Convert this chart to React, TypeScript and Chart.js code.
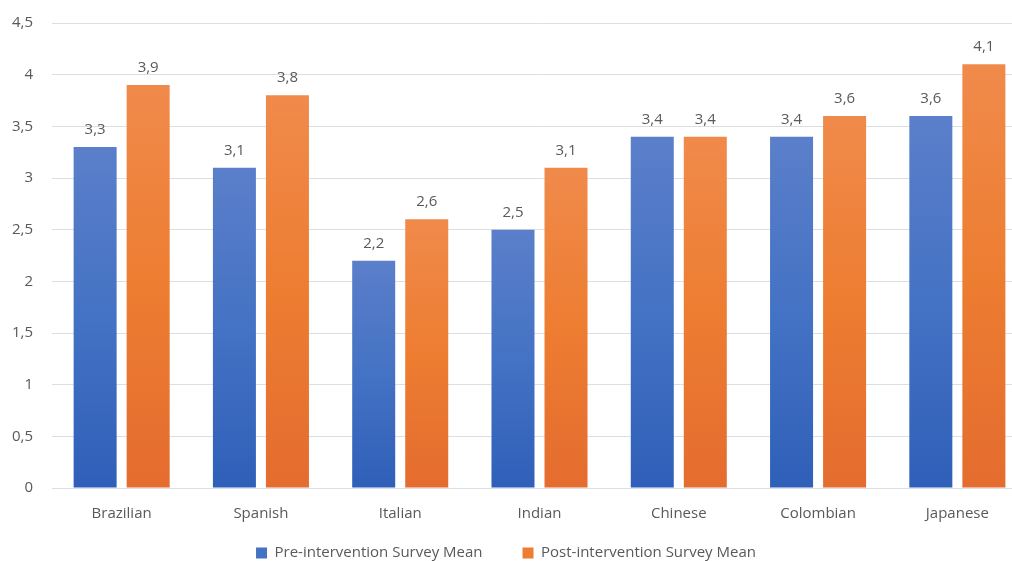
import React, { useEffect, useRef } from "react";
import { Chart, registerables } from "chart.js";

Chart.register(...registerables);

const categories = ["Brazilian", "Spanish", "Italian", "Indian", "Chinese", "Colombian", "Japanese"];
const preValues = [3.3, 3.1, 2.2, 2.5, 3.4, 3.4, 3.6];
const postValues = [3.9, 3.8, 2.6, 3.1, 3.4, 3.6, 4.1];
const seriesNames = ["Pre-intervention Survey Mean", "Post-intervention Survey Mean"];

const FONT = "'Open Sans', 'Noto Sans', sans-serif";
const TEXT = "#595959";
const GRID = "#dadfe6";
const SHIFT = 5;

const blueStops = ["#5b7fca", "#4472c4", "#2f5fb8"];
const orangeStops = ["#f08a4b", "#ed7d31", "#e46c2f"];

function gradientFor(stops: string[]) {
  return (ctx: any) => {
    const chart = ctx.chart;
    const area = chart.chartArea;
    const y = chart.scales && chart.scales.y;
    if (!area || !y || ctx.type !== "data") return stops[1];
    const v = ctx.raw as number;
    const y0 = y.getPixelForValue(0);
    const y1 = y.getPixelForValue(v);
    if (!isFinite(y0) || !isFinite(y1) || y0 === y1) return stops[1];
    const g = chart.ctx.createLinearGradient(0, y1, 0, y0);
    g.addColorStop(0, stops[0]);
    g.addColorStop(0.5, stops[1]);
    g.addColorStop(1, stops[2]);
    return g;
  };
}

const fmt = (v: number) => v.toFixed(1).replace(".", ",");

const valueLabels = {
  id: "valueLabels",
  afterDatasetsDraw(chart: any) {
    const ctx = chart.ctx;
    ctx.save();
    ctx.font = `15px ${FONT}`;
    ctx.fillStyle = TEXT;
    ctx.textAlign = "center";
    ctx.textBaseline = "alphabetic";
    chart.data.datasets.forEach((ds: any, i: number) => {
      const meta = chart.getDatasetMeta(i);
      meta.data.forEach((el: any, j: number) => {
        ctx.fillText(fmt(ds.data[j]), el.x, el.y - 13);
      });
    });
    ctx.restore();
  },
};

const legendShift = {
  id: "legendShift",
  afterLayout(chart: any) {
    const lg = chart.legend;
    if (!lg) return;
    const h = lg.height;
    lg.left = 0;
    lg.right = 1012;
    lg.width = 1012;
    lg.top = 553 + SHIFT - 40 - 7.5;
    lg.bottom = lg.top + h;
  },
};

export default function App() {
  const ref = useRef<HTMLCanvasElement | null>(null);
  useEffect(() => {
    document.body.style.margin = "0";
    const canvas = ref.current!;
    const chart = new Chart(canvas, {
      type: "bar",
      data: {
        labels: categories,
        datasets: [
          {
            label: seriesNames[0],
            data: preValues,
            backgroundColor: gradientFor(blueStops),
            categoryPercentage: 0.7615,
            barPercentage: 0.811,
          },
          {
            label: seriesNames[1],
            data: postValues,
            backgroundColor: gradientFor(orangeStops),
            categoryPercentage: 0.7615,
            barPercentage: 0.811,
          },
        ],
      },
      options: {
        responsive: false,
        animation: false,
        layout: { padding: { left: 12, top: 17, right: 0, bottom: 0 } },
        scales: {
          x: {
            grid: { display: false, drawTicks: false },
            border: { display: true, color: GRID, width: 1 },
            ticks: { color: TEXT, font: { family: FONT, size: 15 }, padding: 17 },
          },
          y: {
            min: 0,
            max: 4.5,
            afterFit: (s: any) => {
              s.width = 40;
            },
            ticks: {
              stepSize: 0.5,
              color: TEXT,
              font: { family: FONT, size: 15 },
              padding: 19,
              callback: (v: any) => String(v).replace(".", ","),
            },
            grid: { color: GRID, drawTicks: false },
            border: { display: false },
          },
        },
        plugins: {
          title: { display: false },
          tooltip: { enabled: false },
          legend: {
            position: "bottom",
            labels: {
              color: TEXT,
              font: { family: FONT, size: 15 },
              boxWidth: 11,
              boxHeight: 11,
              padding: 40,
              generateLabels: (c: any) => {
                const items = Chart.defaults.plugins.legend.labels.generateLabels(c);
                return items.map((it: any, i: number) => ({
                  ...it,
                  fillStyle: i === 0 ? blueStops[1] : orangeStops[1],
                  strokeStyle: "rgba(0,0,0,0)",
                  lineWidth: 0,
                }));
              },
            },
          },
        },
      },
      plugins: [valueLabels, legendShift],
    });
    return () => chart.destroy();
  }, []);
  return (
    <div style={{ width: 1012, height: 561, overflow: "hidden", position: "relative", background: "#fff" }}>
      <canvas ref={ref} width={1027} height={610} style={{ position: "absolute", left: 0, top: -SHIFT }} />
    </div>
  );
}
